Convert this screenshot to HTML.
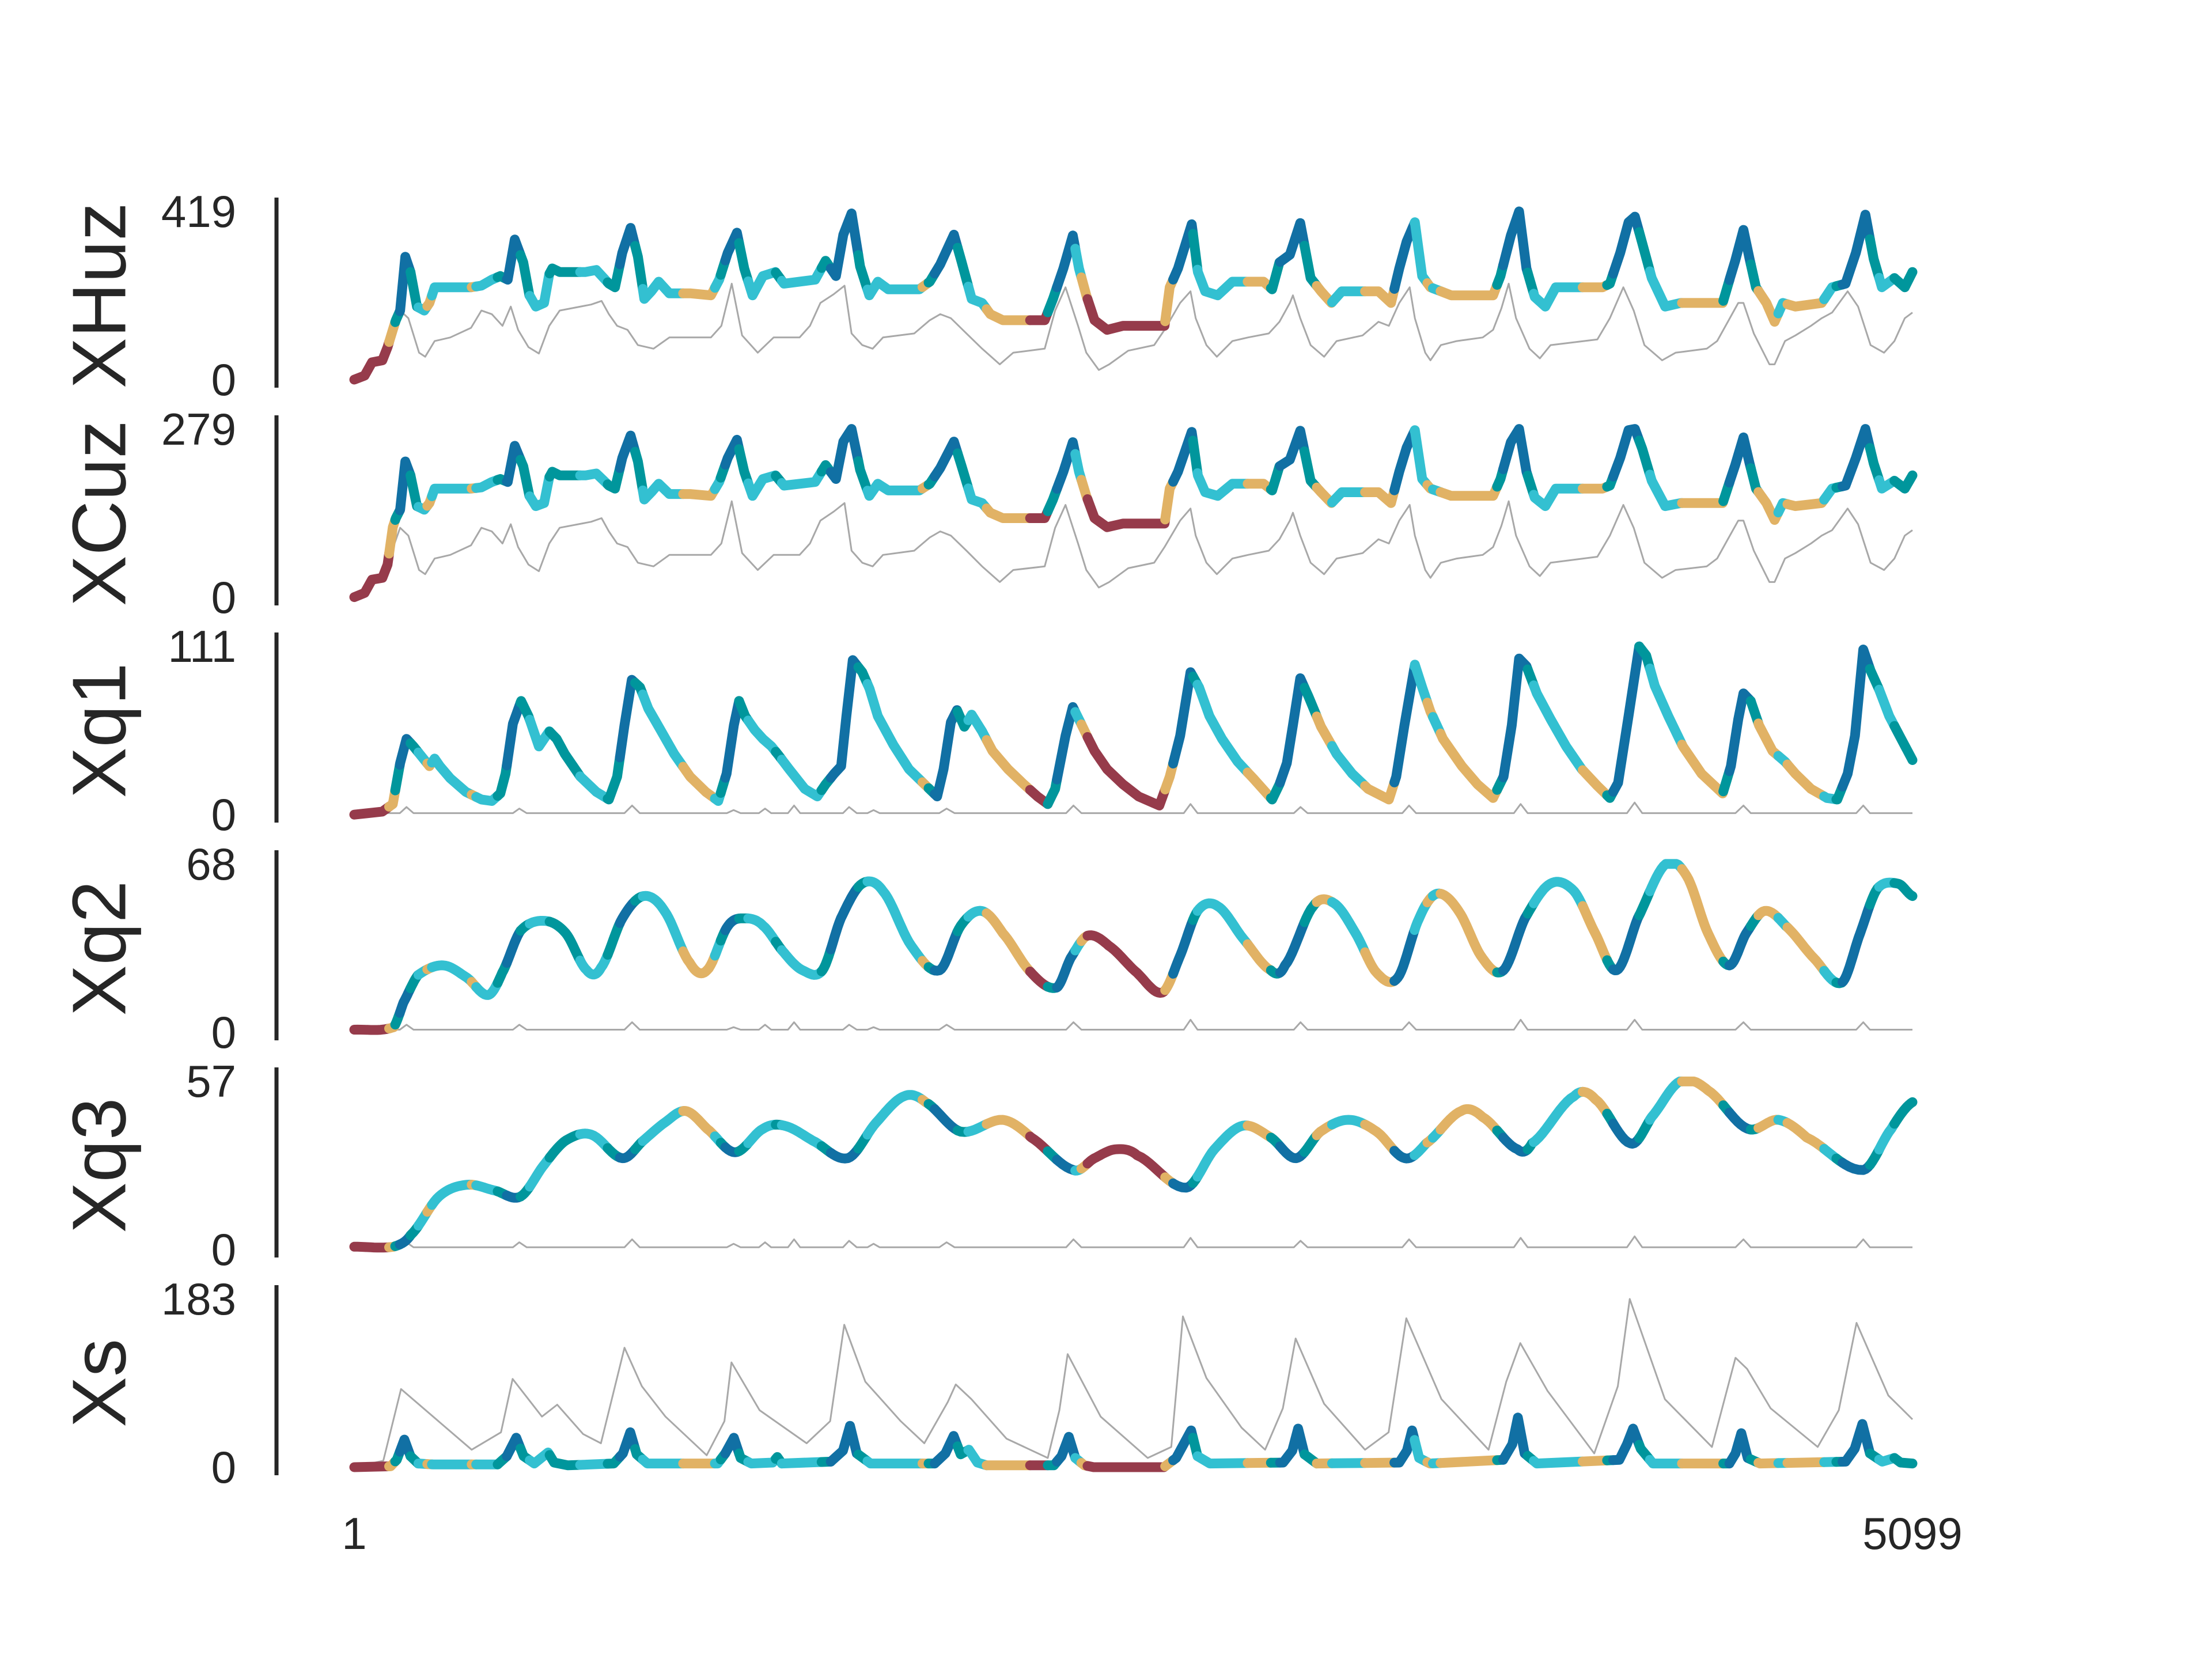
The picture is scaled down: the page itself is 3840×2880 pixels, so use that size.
<!DOCTYPE html>
<html><head><meta charset="utf-8"><style>
html,body{margin:0;padding:0;background:#fff;}
svg{display:block;}
text{font-family:"Liberation Sans",Arial,sans-serif;fill:#262626;}
</style></head><body>
<svg id="chart" width="3840" height="2880" viewBox="0 0 3840 2880" xmlns="http://www.w3.org/2000/svg">
<rect x="0" y="0" width="3840" height="2880" fill="#fff"/>
<g stroke="#262626" stroke-width="7">
<line x1="480" x2="480" y1="343" y2="673"/>
<line x1="480" x2="480" y1="721" y2="1051"/>
<line x1="480" x2="480" y1="1098" y2="1428"/>
<line x1="480" x2="480" y1="1476" y2="1806"/>
<line x1="480" x2="480" y1="1853" y2="2183"/>
<line x1="480" x2="480" y1="2231" y2="2561"/>
</g>
<g font-size="78" text-anchor="end" dominant-baseline="central">
<text x="410" y="367">419</text>
<text x="410" y="659">0</text>
<text x="410" y="745">279</text>
<text x="410" y="1037">0</text>
<text x="410" y="1122">111</text>
<text x="410" y="1414">0</text>
<text x="410" y="1500">68</text>
<text x="410" y="1792">0</text>
<text x="410" y="1877">57</text>
<text x="410" y="2169">0</text>
<text x="410" y="2255">183</text>
<text x="410" y="2547">0</text>
</g>
<g font-size="132" text-anchor="middle" dominant-baseline="central">
<text transform="translate(172,513) rotate(-90)">XHuz</text>
<text transform="translate(172,891) rotate(-90)">XCuz</text>
<text transform="translate(172,1268) rotate(-90)">Xq1</text>
<text transform="translate(172,1646) rotate(-90)">Xq2</text>
<text transform="translate(172,2023) rotate(-90)">Xq3</text>
<text transform="translate(172,2401) rotate(-90)">Xs</text>
</g>
<g font-size="78" text-anchor="middle" dominant-baseline="central">
<text x="615" y="2662">1</text>
<text x="3320" y="2662">5099</text>
</g>
<g id="plot"></g>
</svg>
<script>
// state segmentation (start times and state ids)
const stateT = [0,115,135,150,185,211,240,255,385,400,470,500,545,575,640,740,830,870,920,945,1077,1181,1200,1215,1260,1290,1380,1400,1530,1560,1650,1680,1860,1880,1900,1975,2010,2070,2212,2270,2300,2360,2380,2400,2654,2680,2745,2760,2924,3000,3030,3110,3150,3200,3308,3404,3470,3512,3530,3555,3740,3760,3840,3860,4020,4100,4120,4205,4240,4345,4480,4500,4570,4595,4660,4690,4810,4850,4870,4960,4990,5040];
const stateK = ["M","T","G","B","G","C","T","C","T","C","G","B","G","C","G","C","G","B","G","C","T","C","G","B","G","C","G","C","G","B","G","C","T","G","B","G","C","T","M","G","B","C","T","M","T","B","G","C","T","G","B","G","T","C","T","B","C","T","C","T","G","B","G","C","T","G","B","G","C","T","G","B","G","T","C","T","C","G","B","G","C","G"];

// XHuz
const huzT = [1,35,59,93,110,127,137,151,168,185,206,230,247,264,383,417,451,479,503,526,554,574,595,622,639,649,673,758,793,834,854,878,905,929,950,973,997,1032,1100,1168,1195,1223,1253,1277,1304,1338,1379,1407,1509,1543,1577,1601,1628,1656,1686,1714,1748,1850,1884,1918,1963,1987,2021,2055,2082,2123,2260,2287,2321,2352,2372,2396,2423,2464,2516,2652,2669,2696,2741,2761,2785,2826,2874,2976,3004,3028,3062,3096,3130,3164,3198,3232,3352,3393,3420,3444,3471,3495,3522,3556,3590,3727,3751,3785,3812,3836,3863,3898,3932,4085,4109,4143,4170,4191,4215,4246,4290,4341,4478,4502,4519,4546,4566,4587,4621,4648,4675,4716,4802,4836,4880,4914,4945,4972,4999,5040,5074,5099];
const huzV = [0,10,43,48,81,124,148,172,306,268,182,172,191,230,230,234,249,258,249,349,292,210,182,191,263,277,268,268,273,239,230,316,378,306,201,220,244,215,215,210,249,316,366,277,210,258,268,239,249,296,258,361,414,282,210,244,225,225,244,287,361,296,201,191,163,148,148,201,277,359,277,210,148,124,134,134,230,277,387,268,220,210,244,244,225,292,311,390,253,220,191,220,220,191,277,344,392,258,230,220,210,210,258,359,419,277,206,182,230,230,239,316,392,406,340,253,182,191,191,253,296,373,301,230,191,144,191,182,191,230,239,316,411,301,230,253,230,268];
const huzGrayT = [1,93,151,178,213,233,264,315,383,417,451,486,513,537,571,605,639,673,776,810,834,861,895,929,980,1032,1168,1202,1236,1270,1321,1373,1458,1492,1526,1570,1605,1628,1663,1697,1731,1833,1884,1918,1953,2004,2055,2113,2157,2260,2294,2328,2369,2396,2437,2471,2533,2618,2652,2703,2737,2754,2789,2823,2874,2925,2993,3028,3062,3072,3096,3130,3174,3215,3300,3352,3386,3420,3454,3471,3505,3522,3556,3608,3693,3727,3754,3778,3802,3846,3880,3915,4068,4109,4153,4187,4222,4280,4324,4426,4460,4495,4529,4546,4580,4631,4648,4682,4716,4767,4802,4836,4887,4921,4962,5006,5040,5074,5099];
const huzGrayV = [0,48,172,153,67,57,96,105,129,172,163,134,182,124,81,65,134,172,187,196,163,134,124,86,77,105,105,134,239,110,67,105,105,134,191,213,234,115,86,77,105,115,148,163,153,115,77,38,67,77,172,230,134,67,24,38,72,86,124,191,220,153,86,57,96,105,115,144,191,210,153,86,57,96,110,144,134,191,230,153,67,48,86,96,105,124,177,239,153,77,53,86,100,153,230,172,86,48,67,77,96,144,191,191,115,38,38,96,110,134,153,167,220,182,86,67,96,153,167];

// XCuz
const cuzT = huzT;
const cuzV = [0,7,29,32,54,116,131,145,225,202,151,145,156,180,180,182,191,196,191,251,217,168,151,156,199,208,202,202,205,185,180,231,268,225,162,174,188,171,171,168,191,231,261,208,168,196,202,185,191,219,196,258,279,211,168,188,177,177,188,214,258,219,162,156,140,131,131,162,208,257,208,168,131,116,122,122,180,208,274,202,174,168,188,188,177,217,228,276,193,174,156,174,174,156,208,248,277,196,180,174,168,168,196,257,279,208,165,151,180,180,185,231,277,279,246,193,151,156,156,193,219,265,222,180,156,128,156,151,156,180,185,231,279,222,180,193,180,202];
const cuzGrayT = huzGrayT;
const cuzGrayV = [0,32,115,102,45,38,64,70,86,115,109,89,121,83,54,43,89,115,125,131,109,89,83,57,51,70,70,89,159,73,45,70,70,89,127,142,156,77,57,51,70,77,99,109,102,77,51,25,45,51,115,153,89,45,16,25,48,57,83,127,147,102,57,38,64,70,77,96,127,140,102,57,38,64,73,96,89,127,153,102,45,32,57,64,70,83,118,159,102,51,35,57,67,102,153,115,57,32,45,51,64,96,127,127,77,25,25,64,73,89,102,111,147,121,57,45,64,102,111];

// Xq1
const q1T = [1,93,127,151,172,195,219,247,264,281,315,366,417,451,479,496,520,547,571,605,639,663,690,741,793,834,861,885,909,936,963,997,1048,1100,1151,1192,1219,1243,1260,1280,1311,1338,1366,1390,1424,1475,1516,1543,1571,1594,1611,1632,1663,1687,1714,1765,1816,1867,1908,1929,1953,1973,1997,2021,2055,2089,2140,2192,2236,2270,2294,2328,2352,2379,2403,2423,2464,2516,2567,2635,2669,2703,2737,2765,2799,2840,2891,2942,3004,3028,3052,3072,3096,3123,3164,3215,3266,3318,3386,3410,3437,3471,3495,3522,3563,3625,3676,3727,3761,3788,3812,3836,3870,3915,3966,4017,4068,4109,4136,4170,4205,4228,4256,4300,4348,4409,4478,4505,4529,4546,4570,4597,4641,4682,4716,4767,4819,4853,4887,4911,4938,4962,4989,5023,5057,5099];
const q1V = [0,2,7,34,50,45,39,32,37,32,24,15,10,9,14,27,60,75,65,45,55,50,40,25,15,10,25,59,89,84,70,58,40,25,15,9,27,59,75,65,56,50,45,39,30,17,12,20,27,32,65,102,94,83,65,46,30,20,12,30,61,69,58,66,55,42,30,20,12,7,17,52,71,60,50,42,30,20,12,6,25,52,94,84,65,50,35,24,10,20,34,59,90,78,58,40,27,17,10,25,59,99,84,68,50,32,20,11,25,59,103,98,80,63,45,30,19,11,21,65,111,105,85,65,45,27,14,32,63,80,75,59,42,35,27,17,11,10,27,52,109,95,83,65,52,36];

// Xq2
const q2T = [1,130,162,209,292,370,439,485,545,624,693,762,808,878,947,1016,1099,1155,1224,1284,1339,1408,1468,1533,1593,1662,1731,1823,1916,1985,2054,2123,2216,2299,2345,2400,2469,2562,2645,2700,2760,2825,2908,3000,3046,3139,3208,3277,3346,3415,3485,3544,3614,3692,3761,3831,3914,3992,4061,4131,4200,4292,4361,4430,4500,4555,4615,4684,4776,4868,4928,4984,5053,5099];
const q2V = [1,2,12,23,27,22,15,24,41,45,40,25,26,46,55,49,28,25,43,46,43,32,25,25,46,60,57,35,25,43,49,40,24,18,30,39,35,24,16,30,49,51,38,25,27,51,52,40,24,22,46,56,49,30,25,46,60,57,40,25,46,68,63,40,27,40,49,43,30,20,40,58,60,55];

// Xq3
const q3T = [1,130,186,278,370,462,545,624,693,776,878,947,1016,1085,1155,1247,1339,1408,1500,1616,1708,1800,1870,1985,2123,2216,2354,2423,2492,2562,2723,2815,2908,3000,3083,3162,3254,3346,3438,3508,3623,3692,3807,3854,3992,4061,4177,4246,4338,4430,4559,4661,4753,4938,5030,5099];
const q3V = [1,1,5,18,22,20,18,29,37,39,31,37,43,47,41,33,41,42,37,31,43,52,50,40,44,38,27,31,34,32,21,34,42,38,31,40,44,40,31,36,47,45,34,36,52,51,36,45,57,54,41,44,38,27,41,50];

// gray reference for Xq panels (shared spike times)
const qGrayT = [1,150,172,195,520,541,565,885,910,935,1220,1242,1265,1325,1345,1365,1420,1440,1460,1600,1620,1645,1680,1700,1720,1915,1939,1965,2330,2354,2380,2715,2737,2760,3075,3097,3120,3430,3452,3475,3795,3817,3840,4165,4190,4215,4520,4546,4570,4915,4938,4960,5099];
const q1GrayV = [1,1,5,1,1,4,1,1,6,1,1,3,1,1,4,1,1,6,1,1,5,1,1,3,1,1,4,1,1,6,1,1,7,1,1,5,1,1,6,1,1,7,1,1,8,1,1,6,1,1,6,1,1];
const q2GrayV = [1,1,3,1,1,3,1,1,4,1,1,2,1,1,3,1,1,4,1,1,3,1,1,2,1,1,3,1,1,4,1,1,5,1,1,4,1,1,4,1,1,5,1,1,5,1,1,4,1,1,4,1,1];
const q3GrayV = [0.8,0.8,2.5,0.8,0.8,2.5,0.8,0.8,3.5,0.8,0.8,2,0.8,0.8,2.5,0.8,0.8,3.5,0.8,0.8,3,0.8,0.8,2,0.8,0.8,2.5,0.8,0.8,3.5,0.8,0.8,4,0.8,0.8,3,0.8,0.8,3.5,0.8,0.8,4,0.8,0.8,4.5,0.8,0.8,3.5,0.8,0.8,3.5,0.8,0.8];

// Xs
const xsT = [1,120,140,165,185,210,260,470,500,531,555,590,620,635,655,700,850,880,904,925,960,1190,1215,1243,1265,1300,1370,1385,1400,1560,1600,1623,1645,1690,1900,1935,1962,1985,2012,2040,2070,2290,2315,2339,2360,2390,2420,2650,2690,2739,2760,2800,3040,3070,3089,3110,3150,3420,3445,3462,3485,3520,3760,3790,3808,3830,3870,4140,4165,4185,4210,4250,4500,4520,4539,4560,4600,4880,4910,4935,4960,5000,5040,5060,5099];
const xsV = [0,1,8,30,12,4,3,3,12,32,12,4,12,16,5,2,4,15,38,14,4,4,15,32,10,4,5,11,4,6,18,45,15,4,4,15,34,14,19,5,2,2,12,33,10,2,0,0,10,40,12,4,5,18,42,14,4,5,18,40,10,4,8,25,54,15,4,8,25,42,20,4,4,15,37,10,4,6,20,47,15,6,10,5,4];
const xsGrayT = [1,96,154,385,481,519,615,665,750,808,885,942,1019,1154,1212,1235,1327,1481,1558,1604,1673,1789,1866,1943,1969,2020,2135,2270,2308,2335,2443,2597,2674,2712,2789,2904,2981,3039,3081,3174,3308,3385,3443,3558,3712,3770,3816,3905,4058,4135,4174,4289,4443,4520,4558,4635,4789,4858,4916,5020,5078,5099];
const xsGrayV = [0,7,85,19,38,96,55,68,36,26,130,88,55,13,50,114,62,26,50,155,93,50,26,71,90,74,31,10,62,123,55,10,22,164,97,43,19,64,140,69,19,38,162,74,19,93,135,83,15,88,183,74,22,119,107,64,22,62,157,78,59,52];

const colors = {M:"#963b4b",T:"#e1b265",C:"#33c0d1",G:"#00969c",B:"#1170a4"};
const panels = [
 {name:"xhuz", max:419, T:huzT, V:huzV, GT:huzGrayT, GV:huzGrayV, smooth:false},
 {name:"xcuz", max:279, T:cuzT, V:cuzV, GT:cuzGrayT, GV:cuzGrayV, smooth:false},
 {name:"xq1", max:111, T:q1T, V:q1V, GT:qGrayT, GV:q1GrayV, smooth:false},
 {name:"xq2", max:68, T:q2T, V:q2V, GT:qGrayT, GV:q2GrayV, smooth:true},
 {name:"xq3", max:57, T:q3T, V:q3V, GT:qGrayT, GV:q3GrayV, smooth:true},
 {name:"xs", max:183, T:xsT, V:xsV, GT:xsGrayT, GV:xsGrayV, smooth:false}
];

const X0 = 615, X1 = 3320, TMIN = 1, TMAX = 5099;
function xScale(t){ return X0 + (t - TMIN) / (TMAX - TMIN) * (X1 - X0); }
function yScale(i, v){
  const top = 367 + 377.6 * i, zero = 659 + 377.6 * i;
  return zero - v / panels[i].max * (zero - top);
}
function stateAt(t){
  let k = 0;
  for (let j = 0; j < stateT.length; j++) { if (stateT[j] <= t) k = j; }
  return stateK[k];
}
function densify(T, V, smooth){
  const pts = [];
  for (let j = 0; j < T.length - 1; j++) {
    const n = smooth ? 12 : 1;
    const v0 = V[Math.max(0, j - 1)], v1 = V[j], v2 = V[j + 1], v3 = V[Math.min(V.length - 1, j + 2)];
    for (let s = 0; s < n; s++) {
      const u = s / n;
      const t = T[j] + (T[j + 1] - T[j]) * u;
      let v;
      if (smooth) {
        v = 0.5 * ((2 * v1) + (-v0 + v2) * u + (2 * v0 - 5 * v1 + 4 * v2 - v3) * u * u + (-v0 + 3 * v1 - 3 * v2 + v3) * u * u * u);
      } else { v = v1 + (v2 - v1) * u; }
      pts.push([t, v]);
    }
  }
  pts.push([T[T.length - 1], V[V.length - 1]]);
  const out = [];
  for (let j = 0; j < pts.length - 1; j++) {
    out.push(pts[j]);
    const a = pts[j], b = pts[j + 1];
    for (const sb of stateT) {
      if (sb > a[0] && sb < b[0]) {
        const u = (sb - a[0]) / (b[0] - a[0]);
        out.push([sb, a[1] + (b[1] - a[1]) * u]);
      }
    }
  }
  out.push(pts[pts.length - 1]);
  return out;
}
const NS = "http://www.w3.org/2000/svg";
const plot = document.getElementById("plot");
panels.forEach((p, i) => {
  const g = document.createElementNS(NS, "g");
  
  
  plot.appendChild(g);
  let d = "";
  for (let j = 0; j < p.GT.length; j++) {
    d += (j ? "L" : "M") + xScale(p.GT[j]).toFixed(1) + "," + yScale(i, p.GV[j]).toFixed(1);
  }
  const gl = document.createElementNS(NS, "path");
  
  
  gl.setAttribute("d", d);
  gl.setAttribute("fill", "none");
  gl.setAttribute("stroke", "#a8a8a8");
  gl.setAttribute("stroke-width", "3");
  gl.setAttribute("stroke-linejoin", "round");
  g.appendChild(gl);
  const pts = densify(p.T, p.V, p.smooth);
  let runs = [];
  let cur = null;
  for (let j = 0; j < pts.length - 1; j++) {
    const st = stateAt((pts[j][0] + pts[j + 1][0]) / 2);
    if (!cur || cur.st !== st) { cur = {st: st, pts: [pts[j]]}; runs.push(cur); }
    cur.pts.push(pts[j + 1]);
  }
  runs.forEach((r, k) => {
    let dd = "";
    r.pts.forEach((q, m) => {
      const v = Math.max(0, Math.min(p.max, q[1]));
      dd += (m ? "L" : "M") + xScale(q[0]).toFixed(1) + "," + yScale(i, v).toFixed(1);
    });
    const pl = document.createElementNS(NS, "path");
    
    
    pl.setAttribute("d", dd);
    pl.setAttribute("fill", "none");
    pl.setAttribute("stroke", colors[r.st]);
    pl.setAttribute("stroke-width", "17");
    pl.setAttribute("stroke-linecap", "round");
    pl.setAttribute("stroke-linejoin", "round");
    g.appendChild(pl);
  });
});
</script>
</body></html>
